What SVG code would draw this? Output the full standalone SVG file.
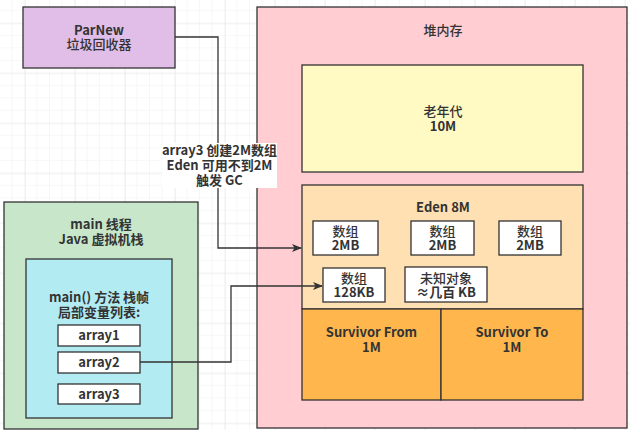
<svg xmlns="http://www.w3.org/2000/svg" width="630" height="430" viewBox="0 0 630 430">
<defs>
<pattern id="gs" width="12.5" height="12.5" patternUnits="userSpaceOnUse" x="0" y="-1.7">
<path d="M12.5 0V12.5M0 12.5H12.5" fill="none" stroke="#f0f0f0" stroke-width="1"/>
</pattern>
<pattern id="gl" width="50" height="50" patternUnits="userSpaceOnUse" x="25" y="23.3">
<path d="M0 0V50M0 0H50" fill="none" stroke="#e6e6e6" stroke-width="1"/>
</pattern>
<marker id="arr" viewBox="0 0 10 10" refX="9" refY="5" markerWidth="10" markerHeight="10" markerUnits="userSpaceOnUse" orient="auto">
<path d="M0 1L10 5L0 9L2.5 5Z" fill="#333"/>
</marker>
<style>
.box{stroke:#333;stroke-width:1.3}
text{font-family:"Noto Sans CJK SC","Noto Sans",sans-serif;font-size:13px;fill:#333;text-anchor:middle}
.b{font-weight:bold}
.c{font-weight:500}
.edge{fill:none;stroke:#333;stroke-width:1.3}
</style>
</defs>
<rect width="630" height="430" fill="#fff"/>
<rect width="630" height="430" fill="url(#gs)"/>
<rect width="630" height="430" fill="url(#gl)"/>

<g id="parnew">
<rect class="box" x="23" y="7" width="152" height="61" fill="#e1bee7"/>
<text x="99" y="35" class="b">ParNew</text>
<text x="99" y="49" class="c">垃圾回收器</text>
</g>

<g id="heap">
<rect class="box" x="257" y="7" width="370" height="421" fill="#ffcdd2"/>
<text x="443" y="35" class="c">堆内存</text>
</g>

<g id="old">
<rect class="box" x="302" y="65" width="281" height="107" fill="#fff9c4"/>
<text x="443" y="116" class="c">老年代</text>
<text x="443" y="131" class="b">10M</text>
</g>

<g id="eden">
<rect class="box" x="302" y="185" width="281" height="124" fill="#ffe0b2"/>
<text x="443" y="212" class="b">Eden 8M</text>
</g>

<g id="arr1">
<rect class="box" x="313" y="221" width="65" height="34" fill="#fff"/>
<text x="345.5" y="236" class="c">数组</text>
<text x="345.5" y="250" class="b">2MB</text>
</g>
<g id="arr2">
<rect class="box" x="411" y="221" width="63" height="34" fill="#fff"/>
<text x="442.5" y="236" class="c">数组</text>
<text x="442.5" y="250" class="b">2MB</text>
</g>
<g id="arr3">
<rect class="box" x="499" y="221" width="62" height="34" fill="#fff"/>
<text x="530" y="236" class="c">数组</text>
<text x="530" y="250" class="b">2MB</text>
</g>
<g id="arr128">
<rect class="box" x="323" y="268" width="62" height="34" fill="#fff"/>
<text x="354" y="283" class="c">数组</text>
<text x="354" y="297" class="b">128KB</text>
</g>
<g id="unknown">
<rect class="box" x="405" y="267" width="82" height="35" fill="#fff"/>
<text x="446" y="283" class="c">未知对象</text>
<text x="446" y="297" class="b">≈几百 KB</text>
</g>

<g id="survivor-from">
<rect class="box" x="302" y="309" width="139" height="91" fill="#ffb74d"/>
<text x="371.5" y="337" class="b">Survivor From</text>
<text x="371.5" y="352" class="b">1M</text>
</g>
<g id="survivor-to">
<rect class="box" x="441" y="309" width="142" height="91" fill="#ffb74d"/>
<text x="512" y="337" class="b">Survivor To</text>
<text x="512" y="352" class="b">1M</text>
</g>

<g id="main-thread">
<rect class="box" x="4" y="202" width="194" height="227" fill="#c8e6c9"/>
<text x="101" y="229" class="b">main 线程</text>
<text x="101" y="244" class="b">Java 虚拟机栈</text>
</g>

<g id="frame">
<rect class="box" x="26" y="259" width="146" height="159" fill="#b2ebf2"/>
<text x="99" y="302" class="b">main() 方法 栈帧</text>
<text x="99" y="317" class="b">局部变量列表:</text>
</g>

<g id="array1">
<rect class="box" x="58" y="325" width="82" height="21" fill="#fff"/>
<text x="99" y="340" class="b">array1</text>
</g>
<g id="array2">
<rect class="box" x="58" y="352" width="82" height="21" fill="#fff"/>
<text x="99" y="367" class="b">array2</text>
</g>
<g id="array3">
<rect class="box" x="58" y="384" width="82" height="20" fill="#fff"/>
<text x="99" y="399" class="b">array3</text>
</g>

<g id="connectors">
<path class="edge" d="M175 37H218V248H301" marker-end="url(#arr)"/>
<path class="edge" d="M140 362H231V286H322" marker-end="url(#arr)"/>
<rect x="162" y="143" width="115" height="45" fill="#fff"/>
<text x="219.5" y="155" class="b">array3 创建2M数组</text>
<text x="219.5" y="170" class="b">Eden 可用不到2M</text>
<text x="219.5" y="185" class="b">触发 GC</text>
</g>
</svg>
